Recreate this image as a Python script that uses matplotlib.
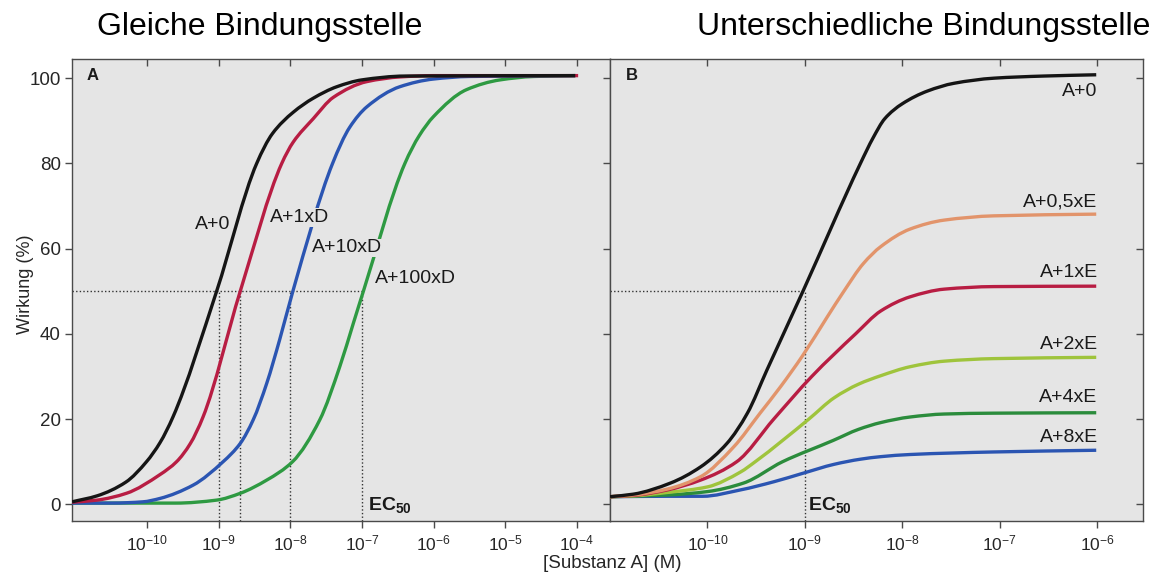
import numpy as np
import matplotlib
matplotlib.use("Agg")
import matplotlib.pyplot as plt
from matplotlib.path import Path
from matplotlib.patches import PathPatch
from matplotlib.ticker import NullLocator, FixedLocator, NullFormatter

plt.rcParams["font.family"] = ["Liberation Sans", "DejaVu Sans"]
plt.rcParams["mathtext.fontset"] = "custom"
plt.rcParams["mathtext.rm"] = "Liberation Sans"
plt.rcParams["mathtext.bf"] = "Liberation Sans:bold"
plt.rcParams["mathtext.it"] = "Liberation Sans:italic"

# ---------------- data: log10 concentration of A vs. effect (%) ----------------
# Panel A: competitive antagonist D (same binding site)
a_ctrl_lx = [-11.05, -10.70, -10.30, -10.01, -9.82, -9.64, -9.03, -8.47,
             -8.25, -7.96, -7.68, -7.35, -7.00, -6.40, -4.02]
a_ctrl_y = [0.6, 2.0, 5.2, 10.0, 14.5, 20.5, 50.0, 80.0,
            87.0, 92.0, 95.3, 98.0, 99.6, 100.5, 100.6]

a_1d_lx = [-11.05, -10.70, -10.29, -9.82, -9.59, -9.40, -9.22, -8.70,
           -8.12, -7.96, -7.68, -7.40, -6.93, -6.46, -6.00, -3.98]
a_1d_y = [0.5, 1.0, 2.6, 7.0, 10.0, 14.2, 20.5, 50.0,
          80.0, 85.0, 90.5, 95.5, 99.2, 100.3, 100.6, 100.6]

a_10d_lx = [-11.05, -10.50, -10.06, -9.82, -9.36, -8.94, -8.70, -8.52, -8.33, -8.15,
            -7.965, -7.41, -7.17, -6.93, -6.47, -6.00, -5.50, -4.02]
a_10d_y = [0.3, 0.3, 0.6, 1.4, 4.5, 10.0, 14.3, 19.8, 28.4, 38.6,
           50.0, 80.0, 88.5, 93.3, 98.0, 99.8, 100.4, 100.6]

a_100d_lx = [-11.05, -9.60, -9.03, -8.70, -8.33, -7.97, -7.59, -7.31, -7.12,
             -6.98, -6.40, -6.20, -6.00, -5.54, -5.07, -4.60, -4.02]
a_100d_y = [0.3, 0.3, 1.0, 2.6, 5.7, 10.0, 19.8, 32.3, 42.5,
            50.0, 80.0, 86.5, 91.0, 97.3, 99.6, 100.4, 100.6]

# Panel B: non-competitive antagonist E (different binding site)
b_ctrl_lx = [-11.0, -10.76, -10.38, -10.07, -9.80, -9.59, -9.39, -9.02, -8.43, -8.30,
             -8.18, -8.00, -7.74, -7.47, -7.06, -6.55, -6.01]
b_ctrl_y = [1.8, 2.4, 5.0, 8.8, 14.3, 21.4, 31.5, 50.0, 80.0, 86.0,
            90.5, 94.0, 97.0, 98.8, 100.0, 100.5, 100.8]

b_05e_lx = [-11.0, -10.76, -10.41, -10.07, -9.73, -9.46, -9.25, -9.02, -8.77, -8.60,
            -8.40, -8.22, -7.92, -7.57, -7.06, -6.01]
b_05e_y = [1.8, 2.2, 3.6, 6.5, 13.5, 21.4, 27.6, 35.0, 44.0, 50.0,
           56.5, 60.5, 64.6, 66.7, 67.7, 68.1]

b_1e_lx = [-11.0, -10.76, -10.41, -10.07, -9.70, -9.32, -8.93, -8.48, -8.22, -7.92,
           -7.57, -7.06, -6.01]
b_1e_y = [1.8, 2.1, 3.4, 5.7, 10.0, 20.0, 30.0, 40.0, 45.4, 48.7,
          50.5, 51.1, 51.2]

b_2e_lx = [-11.0, -10.76, -10.41, -10.00, -9.66, -9.51, -8.96, -8.70, -8.45, -8.22,
           -7.92, -7.57, -7.06, -6.01]
b_2e_y = [1.8, 2.0, 2.8, 4.1, 7.6, 10.0, 20.0, 25.0, 28.2, 30.2,
          32.3, 33.6, 34.2, 34.5]

b_4e_lx = [-11.0, -10.41, -10.00, -9.63, -9.23, -8.71, -8.45, -8.22, -7.92, -7.57,
           -7.06, -6.01]
b_4e_y = [1.8, 2.2, 3.0, 5.0, 10.0, 15.0, 17.6, 19.2, 20.5, 21.2,
          21.4, 21.5]

b_8e_lx = [-11.0, -10.41, -10.05, -9.66, -9.32, -9.02, -8.70, -8.43, -8.22, -7.92,
           -7.06, -6.01]
b_8e_y = [1.8, 1.9, 1.9, 3.4, 5.3, 7.3, 9.4, 10.6, 11.2, 11.7,
          12.3, 12.7]

# EC50 read-offs
ec50_a = [1e-9, 2e-9, 1e-8, 1e-7]
ec50_b = [1e-9]

labels_a = ["A+0", "A+1xD", "A+10xD", "A+100xD"]
labels_b = ["A+0", "A+0,5xE", "A+1xE", "A+2xE", "A+4xE", "A+8xE"]
ticks_a = [1e-10, 1e-9, 1e-8, 1e-7, 1e-6, 1e-5, 1e-4]
ticks_b = [1e-10, 1e-9, 1e-8, 1e-7, 1e-6]
yticks = [0, 20, 40, 60, 80, 100]

BLACK = "#151515"
RED = "#b81d43"
BLUE = "#2b55b2"
GREEN = "#2e9a42"
SALMON = "#e2946b"
YGREEN = "#9fc43c"
DGREEN = "#2b8c3c"
BG = "#e5e5e5"
SPINE = "#4a4a4a"


def smooth_curve(lx, y):
    """Monotone cubic (Fritsch-Carlson) through the points, as Bezier path in log-x."""
    lx = np.asarray(lx, float)
    y = np.asarray(y, float)
    h = np.diff(lx)
    d = np.diff(y) / h
    m = np.zeros_like(y)
    m[0], m[-1] = d[0], d[-1]
    for i in range(1, len(y) - 1):
        if d[i - 1] * d[i] <= 0:
            m[i] = 0.0
        else:
            w1 = 2 * h[i] + h[i - 1]
            w2 = h[i] + 2 * h[i - 1]
            m[i] = (w1 + w2) / (w1 / d[i - 1] + w2 / d[i])
    verts = [(10 ** lx[0], y[0])]
    codes = [Path.MOVETO]
    for i in range(len(h)):
        c1 = (lx[i] + h[i] / 3, y[i] + m[i] * h[i] / 3)
        c2 = (lx[i + 1] - h[i] / 3, y[i + 1] - m[i + 1] * h[i] / 3)
        verts += [(10 ** c1[0], c1[1]), (10 ** c2[0], c2[1]), (10 ** lx[i + 1], y[i + 1])]
        codes += [Path.CURVE4] * 3
    return Path(verts, codes)


def draw_curve(ax, lx, y, color, z):
    ax.add_patch(PathPatch(smooth_curve(lx, y), facecolor="none", edgecolor=color,
                           lw=2.4, zorder=z, capstyle="butt", joinstyle="round"))


W, H = 1153, 577
fig = plt.figure(figsize=(W / 100, H / 100), dpi=100)

x0, xm, x1 = 72 / W, 610 / W, 1143 / W
yb, yt = 1 - 521 / H, 1 - 59 / H
axA = fig.add_axes([x0, yb, xm - x0, yt - yb])
axB = fig.add_axes([xm, yb, x1 - xm, yt - yb])

YLIM = (-3.9, 104.5)
XLIM_A = (10 ** -11.05, 10 ** -3.535)
XLIM_B = (10 ** -11.0, 10 ** -5.53)


def style_axes(ax, xlim, ticks, left_labels):
    ax.set_facecolor(BG)
    ax.set_xscale("log")
    ax.set_xlim(*xlim)
    ax.set_ylim(*YLIM)
    ax.xaxis.set_major_locator(FixedLocator(ticks))
    ax.xaxis.set_minor_locator(NullLocator())
    ax.yaxis.set_major_locator(FixedLocator(yticks))
    for s in ax.spines.values():
        s.set_color(SPINE)
        s.set_linewidth(1.0)
    ax.tick_params(axis="both", direction="out", length=5, width=1, color=SPINE,
                   labelcolor="#262626", pad=3)
    ax.tick_params(axis="x", labelsize=12.5, pad=4)
    ax.tick_params(axis="y", labelsize=13.5, labelleft=left_labels)
    # top ticks pointing inward
    top = ax.twiny()
    top.set_xscale("log")
    top.set_xlim(*xlim)
    top.xaxis.set_major_locator(FixedLocator(ticks))
    top.xaxis.set_minor_locator(NullLocator())
    top.xaxis.set_major_formatter(NullFormatter())
    top.tick_params(axis="x", direction="in", length=5, width=1, color=SPINE)
    for s in top.spines.values():
        s.set_visible(False)
    return top


style_axes(axA, XLIM_A, ticks_a, True)
style_axes(axB, XLIM_B, ticks_b, False)
# right-hand ticks of panel B, pointing inward
rB = axB.twinx()
rB.set_ylim(*YLIM)
rB.yaxis.set_major_locator(FixedLocator(yticks))
rB.yaxis.set_major_formatter(NullFormatter())
rB.tick_params(axis="y", direction="in", length=5, width=1, color=SPINE)
for s in rB.spines.values():
    s.set_visible(False)

# ---------------- panel A ----------------
dot = dict(color="#333333", lw=1.0, ls=(0, (1, 1.6)), zorder=1)
axA.plot([XLIM_A[0], ec50_a[-1]], [50, 50], **dot)
for xv in ec50_a:
    axA.plot([xv, xv], [YLIM[0], 50], **dot)

draw_curve(axA, a_100d_lx, a_100d_y, GREEN, 2)
draw_curve(axA, a_10d_lx, a_10d_y, BLUE, 3)
draw_curve(axA, a_1d_lx, a_1d_y, RED, 4)
draw_curve(axA, a_ctrl_lx, a_ctrl_y, BLACK, 5)

lab_fs = 14
label_box = dict(facecolor=BG, edgecolor="none", pad=0.6)
for txt, lx, yy in zip(labels_a, [-9.089, -7.876, -7.214, -6.248], [65.6, 67.3, 60.2, 53.1]):
    axA.text(10 ** lx, yy, txt, fontsize=lab_fs, ha="center", va="center", color="#1a1a1a",
             zorder=6, bbox=label_box)

axA.text(10 ** -6.91, -0.2, r"$\mathbf{EC_{50}}$", fontsize=14, ha="left", va="center",
         color="#1a1a1a")
axA.text(0.039, 0.965, "A", transform=axA.transAxes, fontsize=12, fontweight="bold",
         ha="center", va="center", color="#1a1a1a")

# ---------------- panel B ----------------
axB.plot([XLIM_B[0], ec50_b[0]], [50, 50], **dot)
axB.plot([ec50_b[0], ec50_b[0]], [YLIM[0], 50], **dot)

draw_curve(axB, b_8e_lx, b_8e_y, BLUE, 2)
draw_curve(axB, b_4e_lx, b_4e_y, DGREEN, 3)
draw_curve(axB, b_2e_lx, b_2e_y, YGREEN, 4)
draw_curve(axB, b_1e_lx, b_1e_y, RED, 5)
draw_curve(axB, b_05e_lx, b_05e_y, SALMON, 6)
draw_curve(axB, b_ctrl_lx, b_ctrl_y, BLACK, 7)

for txt, yy in zip(labels_b, [96.8, 71.0, 54.3, 37.4, 25.0, 15.6]):
    axB.text(10 ** -5.996, yy, txt, fontsize=lab_fs, ha="right", va="center",
             color="#1a1a1a", zorder=8)

axB.text(10 ** -8.963, -0.2, r"$\mathbf{EC_{50}}$", fontsize=14, ha="left", va="center",
         color="#1a1a1a")
axB.text(0.041, 0.965, "B", transform=axB.transAxes, fontsize=12, fontweight="bold",
         ha="center", va="center", color="#1a1a1a")

# ---------------- figure texts ----------------
fig.text(260 / W, 1 - 35 / H, "Gleiche Bindungsstelle", fontsize=23, ha="center",
         va="baseline", color="black")
fig.text(924 / W, 1 - 35 / H, "Unterschiedliche Bindungsstelle", fontsize=23, ha="center",
         va="baseline", color="black")
fig.text(612 / W, 1 - 563 / H, "[Substanz A] (M)", fontsize=13.5, ha="center", va="center",
         color="#262626")
fig.text(25 / W, 1 - 284 / H, "Wirkung (%)", fontsize=13, ha="center", va="center",
         rotation=90, color="#262626")

fig.savefig("out.png", dpi=100, facecolor="white")
